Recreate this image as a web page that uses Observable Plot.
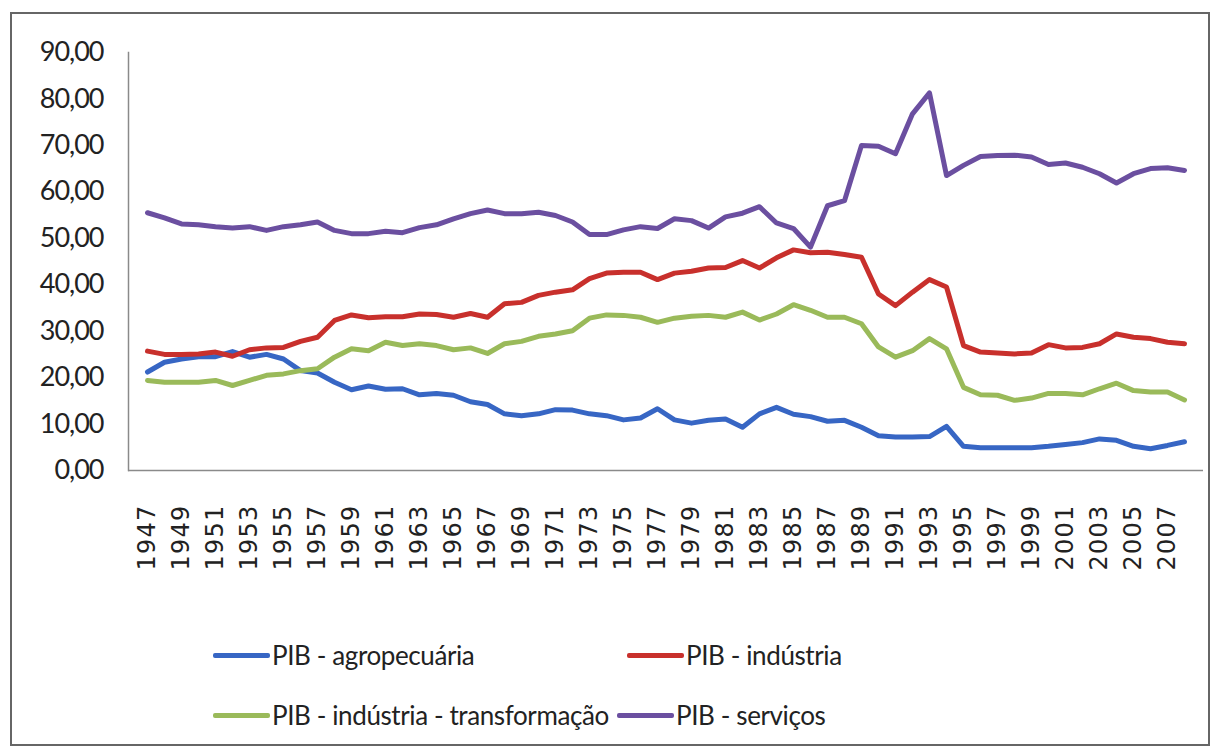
<!DOCTYPE html>
<html>
<head>
<meta charset="utf-8">
<script src="https://cdn.jsdelivr.net/npm/d3@7"></script>
<script src="https://cdn.jsdelivr.net/npm/@observablehq/plot@0.6"></script>
<style>
  html, body { margin: 0; padding: 0; background: #fff; }
  #page { position: relative; width: 1218px; height: 755px; overflow: hidden; background: #fff; }
  #frame { position: absolute; left: 10px; top: 12px; width: 1200px; height: 734px; box-sizing: border-box; border: 2px solid #666; }
  #chart { position: absolute; left: 0; top: 0; }
  .leg { position: absolute; display: flex; align-items: center; font-family: Lato, "Open Sans", sans-serif; font-size: 26px; letter-spacing: -0.4px; color: #222; white-space: nowrap; }
  .sw { width: 57px; height: 5px; border-radius: 2px; margin-right: 2px; }
</style>
</head>
<body>
<div id="page">
  <div id="frame"></div>
  <div id="chart"></div>
  <div id="legend"></div>
</div>
<script>
const years = [1947,1948,1949,1950,1951,1952,1953,1954,1955,1956,1957,1958,1959,1960,1961,1962,1963,1964,1965,1966,1967,1968,1969,1970,1971,1972,1973,1974,1975,1976,1977,1978,1979,1980,1981,1982,1983,1984,1985,1986,1987,1988,1989,1990,1991,1992,1993,1994,1995,1996,1997,1998,1999,2000,2001,2002,2003,2004,2005,2006,2007,2008];

const agropecuaria = [21.2,23.3,24.0,24.5,24.5,25.6,24.4,25.0,24.0,21.5,21.0,19.0,17.4,18.2,17.5,17.6,16.3,16.6,16.2,14.8,14.2,12.2,11.8,12.2,13.1,13.0,12.2,11.8,10.9,11.3,13.3,10.9,10.2,10.8,11.1,9.3,12.2,13.6,12.1,11.6,10.6,10.8,9.3,7.5,7.2,7.2,7.3,9.5,5.2,4.9,4.9,4.9,4.9,5.2,5.6,6.0,6.8,6.5,5.2,4.7,5.4,6.2];

const industria = [25.7,25.0,25.0,25.1,25.5,24.6,26.0,26.4,26.5,27.8,28.7,32.3,33.5,32.9,33.1,33.1,33.7,33.6,33.0,33.8,33.0,35.9,36.2,37.7,38.4,38.9,41.3,42.5,42.7,42.7,41.1,42.5,42.9,43.6,43.7,45.2,43.6,45.8,47.5,46.9,47.0,46.5,45.9,38.0,35.5,38.4,41.1,39.5,26.9,25.5,25.3,25.1,25.3,27.1,26.4,26.5,27.3,29.4,28.7,28.4,27.6,27.3];

const transformacao = [19.4,19.0,19.0,19.0,19.4,18.3,19.4,20.5,20.8,21.5,21.9,24.4,26.2,25.8,27.6,26.9,27.3,26.9,26.0,26.4,25.2,27.3,27.8,28.9,29.4,30.1,32.8,33.5,33.4,33.0,31.9,32.8,33.2,33.4,33.0,34.1,32.4,33.7,35.7,34.5,33.0,33.0,31.6,26.6,24.4,25.8,28.4,26.2,17.9,16.3,16.2,15.1,15.6,16.6,16.6,16.3,17.6,18.8,17.2,16.9,16.9,15.2];

const servicos = [55.5,54.4,53.1,52.9,52.5,52.2,52.5,51.7,52.5,52.9,53.5,51.7,51.0,51.0,51.5,51.2,52.3,52.9,54.2,55.3,56.1,55.3,55.3,55.6,54.9,53.5,50.8,50.8,51.8,52.5,52.1,54.2,53.8,52.2,54.6,55.4,56.8,53.3,52.1,48.1,57.0,58.1,70.0,69.8,68.2,76.8,81.3,63.5,65.7,67.6,67.8,67.9,67.5,65.9,66.2,65.3,63.9,61.9,63.9,65.0,65.2,64.6];

const seriesNames = ["PIB - agropecuária", "PIB - indústria", "PIB - indústria - transformação", "PIB - serviços"];
const seriesColors = ["#3766c4", "#c8302c", "#9aba5a", "#6b4fa0"];
const yTicks = [0,10,20,30,40,50,60,70,80,90];
const xTicks = years.filter((d, i) => i % 2 === 0);

const seriesValues = [agropecuaria, industria, transformacao, servicos];
const rows = [];
seriesNames.forEach((name, s) => {
  years.forEach((yr, i) => rows.push({ year: yr, value: seriesValues[s][i], serie: name }));
});

const chart = Plot.plot({
  width: 1218,
  height: 610,
  marginLeft: 128,
  marginRight: 15,
  marginTop: 52,
  marginBottom: 140,
  style: { fontFamily: "Lato, 'Open Sans', sans-serif", background: "transparent", overflow: "visible" },
  x: { type: "point", domain: years, padding: 0.5, label: null },
  y: { domain: [0, 90], label: null },
  color: { domain: seriesNames, range: seriesColors },
  marks: [
    Plot.axisY({ ticks: yTicks, tickSize: 0, tickPadding: 25, tickFormat: d => d.toFixed(2).replace(".", ","), fontSize: 27, fill: "#222", label: null }),
    Plot.axisX({ ticks: xTicks, tickSize: 0, tickPadding: 34, tickRotate: -90, tickFormat: d => String(d), fontSize: 24, fontFamily: "DejaVu Sans", fill: "#222", label: null }),
    Plot.frame({ anchor: "left", stroke: "#8a8a8a", strokeWidth: 1.5 }),
    Plot.ruleY([0], { stroke: "#8a8a8a", strokeWidth: 1.5 }),
    Plot.line(rows, { x: "year", y: "value", z: "serie", stroke: "serie", strokeWidth: 5, strokeLinejoin: "round", strokeLinecap: "round" })
  ]
});
d3.select(chart).selectAll('g[aria-label="x-axis tick label"] text').style("letter-spacing", "1.2px");
d3.select(chart).selectAll('g[aria-label="y-axis tick label"] text').style("letter-spacing", "-1px");
document.getElementById("chart").appendChild(chart);

const legendPos = [
  { left: 213, top: 655 },
  { left: 627, top: 655 },
  { left: 213, top: 715 },
  { left: 617, top: 715 }
];
const legend = document.getElementById("legend");
seriesNames.forEach((name, i) => {
  const item = document.createElement("div");
  item.className = "leg";
  item.style.left = legendPos[i].left + "px";
  item.style.top = (legendPos[i].top - 17) + "px";
  item.style.height = "34px";
  const sw = document.createElement("span");
  sw.className = "sw";
  sw.style.background = seriesColors[i];
  const tx = document.createElement("span");
  tx.textContent = name;
  item.appendChild(sw);
  item.appendChild(tx);
  legend.appendChild(item);
});
</script>
</body>
</html>
